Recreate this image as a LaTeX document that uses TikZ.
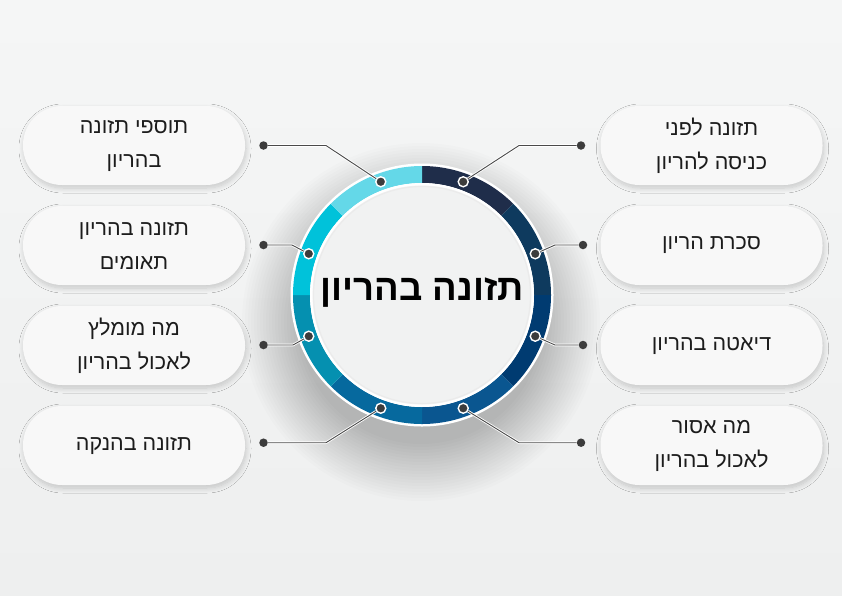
\documentclass[tikz,border=0pt]{standalone}
\usepackage{fontspec}
\usetikzlibrary{shadows.blur}
\TeXXeTstate=1
\newfontfamily\hebfont[Script=Hebrew]{Liberation Sans}
\newcommand\hb[1]{{\hebfont\beginR #1\endR}}
\definecolor{bgtop}{HTML}{F5F6F6}
\definecolor{bgbot}{HTML}{EEEFEF}
\definecolor{segA}{HTML}{1F2D4A}
\definecolor{segB}{HTML}{0E3A5E}
\definecolor{segC}{HTML}{003B71}
\definecolor{segD}{HTML}{0A5690}
\definecolor{segE}{HTML}{06699E}
\definecolor{segF}{HTML}{0590B0}
\definecolor{segG}{HTML}{00C2DA}
\definecolor{segH}{HTML}{64D8E8}
\definecolor{dotgray}{HTML}{3C3C3C}
\definecolor{linegray}{HTML}{4A4A4A}
\definecolor{discgray}{HTML}{F1F2F2}
\definecolor{pillfill}{HTML}{F8F8F8}
\definecolor{txt}{HTML}{1C1C1C}
\begin{document}
\begin{tikzpicture}[x=1pt,y=-1pt,
  pill/.style={fill=pillfill, rounded corners=39pt, minimum width=222pt, minimum height=79pt,
    inner sep=0pt, align=center, text=txt, font=\fontsize{21.5}{34}\selectfont,
    blur shadow={shadow xshift=1pt, shadow yshift=-3pt, shadow blur steps=12, shadow opacity=18, shadow blur radius=5pt}},
  ringdot/.style={circle, fill=dotgray, draw=white, line width=1.4pt, inner sep=0pt, minimum size=10pt},
  enddot/.style={circle, fill=dotgray, inner sep=0pt, minimum size=8.5pt},
  halo/.style={draw=white, line width=2.6pt},
  conn/.style={draw=linegray, line width=0.9pt}
]
\useasboundingbox (0,0) rectangle (842,595);
\shade[top color=bgtop, bottom color=bgbot] (0,0) rectangle (842,595);
% soft shadow of the central circle
\foreach \i in {0,...,19}{
  \fill[black, opacity=0.012] (421,322) circle[radius=122+\i*3];
}
% ring
\begin{scope}[shift={(422,295)}]
  \fill[white] (0,0) circle[radius=131.5];
  \foreach \a/\c in {270/segA,315/segB,0/segC,45/segD,90/segE,135/segF,180/segG,225/segH}{
    \fill[\c] (\a:129) arc[start angle=\a, end angle=\a+45, radius=129]
      -- ({\a+45}:112) arc[start angle=\a+45, end angle=\a, radius=112] -- cycle;
  }
  \fill[white] (0,0) circle[radius=112];
  \fill[discgray] (0,0) circle[radius=109.5];
  \draw[black!8, line width=1.2pt] (0,0) circle[radius=108.5];
\end{scope}
\node (title) at (422,293) {\fontsize{36.5}{40}\selectfont\bfseries\hb{תזונה בהריון}};

% pills
\node[pill] (L1) at (134,145.5) {\hb{תוספי תזונה}\\\hb{בהריון}};
\node[pill] (L2) at (134,245.5) {\hb{תזונה בהריון}\\\hb{תאומים}};
\node[pill] (L3) at (134,345.5) {\hb{מה מומלץ}\\\hb{לאכול בהריון}};
\node[pill] (L4) at (134,445.5) {\hb{תזונה בהנקה}};
\node[pill] (R1) at (711.5,145.5) {\hb{תזונה לפני}\\\hb{כניסה להריון}};
\node[pill] (R2) at (711.5,245.5) {\hb{סכרת הריון}};
\node[pill] (R3) at (711.5,345.5) {\hb{דיאטה בהריון}};
\node[pill] (R4) at (711.5,445.5) {\hb{מה אסור}\\\hb{לאכול בהריון}};

% ring dots
\begin{scope}[shift={(422,295)}]
  \node[ringdot] (dR1) at (290:120.5) {};
  \node[ringdot] (dR2) at (340:120.5) {};
  \node[ringdot] (dR3) at (20:120.5) {};
  \node[ringdot] (dR4) at (70:120.5) {};
  \node[ringdot] (dL4) at (110:120.5) {};
  \node[ringdot] (dL3) at (160:120.5) {};
  \node[ringdot] (dL2) at (200:120.5) {};
  \node[ringdot] (dL1) at (250:120.5) {};
\end{scope}

% end dots
\node[enddot] (eL1) at (263.5,145.5) {};
\node[enddot] (eL2) at (263.5,245) {};
\node[enddot] (eL3) at (263.5,345) {};
\node[enddot] (eL4) at (263.5,442.7) {};
\node[enddot] (eR1) at (581,145.5) {};
\node[enddot] (eR2) at (583,245) {};
\node[enddot] (eR3) at (583,345) {};
\node[enddot] (eR4) at (581,442.7) {};

% bends
\coordinate (bL1) at (326,145.5);
\coordinate (bL2) at (292,245);
\coordinate (bL3) at (293,345);
\coordinate (bL4) at (326,442.7);
\coordinate (bR1) at (519,145.5);
\coordinate (bR2) at (555,245);
\coordinate (bR3) at (555,345);
\coordinate (bR4) at (519,442.7);

\foreach \s in {L1,L2,L3,L4,R1,R2,R3,R4}{
  \draw[halo] (e\s) -- (b\s) -- (d\s);
  \draw[conn] (e\s) -- (b\s) -- (d\s);
}
\end{tikzpicture}
\end{document}
